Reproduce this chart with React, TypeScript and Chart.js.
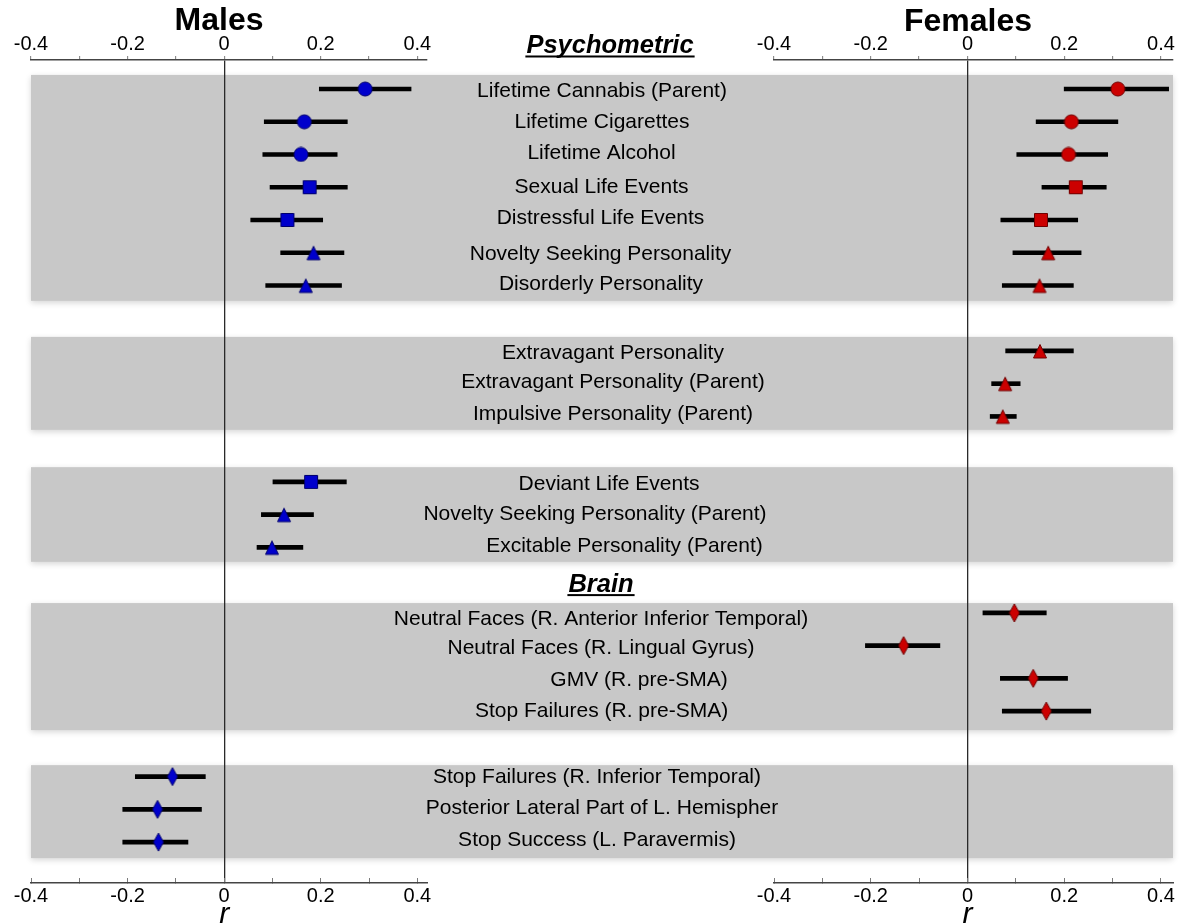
import React, { useEffect, useRef } from 'react';
import { Chart, registerables } from 'chart.js';

Chart.register(...registerables);

const FONT = "'Liberation Sans', Arial, Helvetica, sans-serif";

// ---------- data ----------
const rowLabels = [
  'Lifetime Cannabis (Parent)',
  'Lifetime Cigarettes',
  'Lifetime Alcohol',
  'Sexual Life Events',
  'Distressful Life Events',
  'Novelty Seeking Personality',
  'Disorderly Personality',
  'Extravagant Personality',
  'Extravagant Personality (Parent)',
  'Impulsive Personality (Parent)',
  'Deviant Life Events',
  'Novelty Seeking Personality (Parent)',
  'Excitable Personality (Parent)',
  'Neutral Faces (R. Anterior Inferior Temporal)',
  'Neutral Faces (R. Lingual Gyrus)',
  'GMV (R. pre-SMA)',
  'Stop Failures (R. pre-SMA)',
  'Stop Failures (R. Inferior Temporal)',
  'Posterior Lateral Part of L. Hemispher',
  'Stop Success (L. Paravermis)',
];
const labelRows = [0, 1, 2, 3, 4, 5, 6, 8, 9, 10, 12, 13, 14, 16, 17, 18, 19, 21, 22, 23];

const maleRows = [0, 1, 2, 3, 4, 5, 6, 12, 13, 14, 21, 22, 23];
const maleR = [0.292, 0.166, 0.159, 0.177, 0.131, 0.185, 0.169, 0.18, 0.124, 0.099, -0.107, -0.138, -0.136];
const maleLo = [0.197, 0.083, 0.08, 0.095, 0.055, 0.117, 0.086, 0.101, 0.077, 0.068, -0.184, -0.21, -0.21];
const maleHi = [0.387, 0.255, 0.234, 0.255, 0.204, 0.248, 0.243, 0.253, 0.185, 0.163, -0.039, -0.047, -0.075];
const maleShape = ['circle', 'circle', 'circle', 'square', 'square', 'triangle', 'triangle', 'square', 'triangle', 'triangle', 'diamond', 'diamond', 'diamond'];

const femaleRows = [0, 1, 2, 3, 4, 5, 6, 8, 9, 10, 16, 17, 18, 19];
const femaleR = [0.311, 0.215, 0.209, 0.224, 0.152, 0.167, 0.149, 0.15, 0.078, 0.073, 0.097, -0.132, 0.136, 0.163];
const femaleLo = [0.2, 0.142, 0.102, 0.154, 0.069, 0.094, 0.072, 0.079, 0.05, 0.047, 0.032, -0.211, 0.068, 0.072];
const femaleHi = [0.416, 0.311, 0.29, 0.287, 0.228, 0.235, 0.219, 0.219, 0.109, 0.101, 0.163, -0.057, 0.207, 0.255];
const femaleShape = ['circle', 'circle', 'circle', 'square', 'square', 'triangle', 'triangle', 'triangle', 'triangle', 'triangle', 'diamond', 'diamond', 'diamond', 'diamond'];

const bandStart = [-0.43, 7.57, 11.55, 15.7, 20.65];
const bandEnd = [6.47, 10.41, 14.44, 19.58, 23.49];

const xTickValues = [-0.4, -0.2, 0, 0.2, 0.4];
const xTickLabels = ['-0.4', '-0.2', '0', '0.2', '0.4'];

const sectionTitles = ['Psychometric', 'Brain'];
const panelTitles = ['Males', 'Females'];
const axisTitle = 'r';

// ---------- layout (pixels / row units) ----------
const labelX = [602, 602, 601.5, 601.5, 600.5, 600.5, 601, 613, 613, 613, 609, 595, 624.5, 601, 601, 639, 601.6, 597, 602, 597];
const labelDy = [2, 0, -1, 0, -2, 1, -1, 2, -1, -2, 2, 0, -1, 6, 3, 2, 0, 1, -1, -2];
const sectionX = [610, 601];
const sectionBaseRow = [-1.1, 15.35];
const BAND_LEFT = 31;
const BAND_RIGHT = 1173;
const Y_MIN = -0.886;
const Y_MAX = 24.25;
const MALE_AREA = { left: 31, right: 427, top: 60, bottom: 883 };
const FEMALE_AREA = { left: 774, right: 1173, top: 60, bottom: 883 };

function makeMarker(shape: string, fill: string, stroke: string): HTMLCanvasElement {
  const c = document.createElement('canvas');
  let w = 16;
  let h = 16;
  if (shape === 'triangle') { w = 16; h = 18; }
  if (shape === 'diamond') { w = 12; h = 20; }
  c.width = w;
  c.height = h;
  const g = c.getContext('2d') as CanvasRenderingContext2D;
  g.fillStyle = fill;
  g.strokeStyle = stroke;
  g.lineWidth = 1;
  g.beginPath();
  if (shape === 'circle') g.arc(8, 8, 7, 0, Math.PI * 2);
  else if (shape === 'square') g.rect(1.5, 1.5, 13, 13);
  else if (shape === 'triangle') { g.moveTo(8, 2.5); g.lineTo(14.5, 16); g.lineTo(1.5, 16); g.closePath(); }
  else { g.moveTo(6, 1); g.lineTo(11, 10); g.lineTo(6, 19); g.lineTo(1, 10); g.closePath(); }
  g.fill();
  g.stroke();
  return c;
}

function tickLabel(v: any) {
  const k = xTickValues.findIndex((t) => Math.abs(t - Number(v)) < 1e-6);
  return k >= 0 ? xTickLabels[k] : '';
}

function xScales(xMax: number) {
  const tickFont = { family: FONT, size: 20 };
  return {
    x: {
      type: 'linear', position: 'top', min: -0.4, max: xMax, offset: false,
      ticks: { stepSize: 0.1, includeBounds: false, autoSkip: false, maxRotation: 0, padding: 0, color: '#000', font: tickFont, callback: tickLabel },
      grid: {
        drawOnChartArea: true, drawTicks: true, tickLength: 4, tickColor: '#7a7a7a', tickWidth: 1, offset: false,
        color: (c: any) => (c.tick && Math.abs(c.tick.value) < 1e-9 ? '#2a2a2a' : 'rgba(0,0,0,0)'),
        lineWidth: 1.3,
      },
      border: { display: true, color: '#444', width: 1.5 },
    },
    x2: {
      type: 'linear', position: 'bottom', min: -0.4, max: xMax, offset: false,
      ticks: { stepSize: 0.1, includeBounds: false, autoSkip: false, maxRotation: 0, padding: 6, color: '#000', font: tickFont, callback: tickLabel },
      grid: { drawOnChartArea: false, drawTicks: true, tickLength: -5, tickColor: '#7a7a7a', tickWidth: 1, offset: false },
      border: { display: true, color: '#444', width: 1.5 },
    },
    y: { type: 'linear', display: false, min: Y_MIN, max: Y_MAX, reverse: true, offset: false, grid: { offset: false } },
  };
}

function drawUnderlined(ctx: CanvasRenderingContext2D, text: string, x: number, y: number) {
  ctx.fillText(text, x, y);
  const w = ctx.measureText(text).width;
  ctx.fillRect(x - w / 2 - 1, y + 2.5, w + 2, 2);
}

const maleDecor = {
  id: 'maleDecor',
  beforeDraw(chart: any) {
    const ctx = chart.ctx as CanvasRenderingContext2D;
    const ys = chart.scales.y;
    ctx.save();
    ctx.fillStyle = 'rgb(200,200,200)';
    ctx.shadowColor = 'rgba(0,0,0,0.16)';
    ctx.shadowBlur = 6;
    ctx.shadowOffsetY = 2;
    bandStart.forEach((s, i) => {
      const y0 = ys.getPixelForValue(s);
      const y1 = ys.getPixelForValue(bandEnd[i]);
      ctx.fillRect(BAND_LEFT, y0, BAND_RIGHT - BAND_LEFT, y1 - y0);
    });
    ctx.restore();
  },
  afterDraw(chart: any) {
    const ctx = chart.ctx as CanvasRenderingContext2D;
    const ys = chart.scales.y;
    const xs = chart.scales.x;
    ctx.save();
    ctx.fillStyle = '#000';
    ctx.textAlign = 'center';
    ctx.textBaseline = 'middle';
    ctx.font = `21px ${FONT}`;
    rowLabels.forEach((t, i) => {
      ctx.fillText(t, labelX[i], ys.getPixelForValue(labelRows[i]) + labelDy[i]);
    });
    ctx.textBaseline = 'alphabetic';
    ctx.font = `italic bold 25.5px ${FONT}`;
    sectionTitles.forEach((t, i) => drawUnderlined(ctx, t, sectionX[i], ys.getPixelForValue(sectionBaseRow[i])));
    ctx.font = `bold 32px ${FONT}`;
    ctx.fillText(panelTitles[0], 219, 29.5);
    ctx.font = `italic 30px ${FONT}`;
    ctx.fillText(axisTitle, xs.getPixelForValue(0), 922.5);
    ctx.restore();
  },
};

const femaleDecor = {
  id: 'femaleDecor',
  afterDraw(chart: any) {
    const ctx = chart.ctx as CanvasRenderingContext2D;
    const xs = chart.scales.x;
    ctx.save();
    ctx.fillStyle = '#000';
    ctx.textAlign = 'center';
    ctx.textBaseline = 'alphabetic';
    ctx.font = `bold 32px ${FONT}`;
    ctx.fillText(panelTitles[1], 968, 30.5);
    ctx.font = `italic 30px ${FONT}`;
    ctx.fillText(axisTitle, xs.getPixelForValue(0), 922.5);
    ctx.restore();
  },
};

function makePanel(
  canvas: HTMLCanvasElement,
  rows: number[], r: number[], lo: number[], hi: number[], shape: string[],
  fill: string, stroke: string, xMax: number, area: any, plugin: any,
) {
  const markers: Record<string, HTMLCanvasElement> = {};
  ['circle', 'square', 'triangle', 'diamond'].forEach((s) => { markers[s] = makeMarker(s, fill, stroke); });
  const pad = { left: area.left - 15, right: 1184 - area.right, top: area.top - 28, bottom: 923 - area.bottom - 30 };
  const options: any = {
    responsive: false,
    animation: false,
    devicePixelRatio: 1,
    events: [],
    layout: { padding: pad },
    plugins: { legend: { display: false }, tooltip: { enabled: false }, title: { display: false } },
    scales: xScales(xMax),
  };
  const chart = new Chart(canvas, {
    type: 'scatter',
    data: {
      datasets: [
        {
          type: 'scatter',
          data: rows.map((row, i) => ({ x: r[i], y: row })),
          xAxisID: 'x', yAxisID: 'y',
          pointStyle: (c: any) => markers[shape[c.dataIndex]],
          pointRadius: 7, pointHoverRadius: 7,
          order: 0,
        } as any,
        {
          type: 'bar',
          indexAxis: 'y',
          data: rows.map((row, i) => ({ x: [lo[i], hi[i]], y: row })),
          xAxisID: 'x', yAxisID: 'y',
          backgroundColor: '#000', borderWidth: 0, barThickness: 4,
          order: 1,
        } as any,
      ],
    },
    options,
    plugins: [plugin],
  });
  for (let k = 0; k < 3; k++) {
    const a = chart.chartArea;
    pad.left += area.left - a.left;
    pad.right += a.right - area.right;
    pad.top += area.top - a.top;
    pad.bottom += a.bottom - area.bottom;
    options.layout.padding = { ...pad };
    chart.update();
  }
  return chart;
}

export default function App() {
  const maleRef = useRef<HTMLCanvasElement>(null);
  const femaleRef = useRef<HTMLCanvasElement>(null);
  useEffect(() => {
    const m = makePanel(maleRef.current as HTMLCanvasElement, maleRows, maleR, maleLo, maleHi, maleShape,
      '#0000cc', '#00006e', 0.42, MALE_AREA, maleDecor);
    const f = makePanel(femaleRef.current as HTMLCanvasElement, femaleRows, femaleR, femaleLo, femaleHi, femaleShape,
      '#cc0000', '#700000', 0.425, FEMALE_AREA, femaleDecor);
    return () => { m.destroy(); f.destroy(); };
  }, []);
  return (
    <div style={{ position: 'absolute', left: 0, top: 0, width: 1184, height: 923, background: '#fff' }}>
      <canvas ref={maleRef} width={1184} height={923} style={{ position: 'absolute', left: 0, top: 0 }} />
      <canvas ref={femaleRef} width={1184} height={923} style={{ position: 'absolute', left: 0, top: 0 }} />
    </div>
  );
}
